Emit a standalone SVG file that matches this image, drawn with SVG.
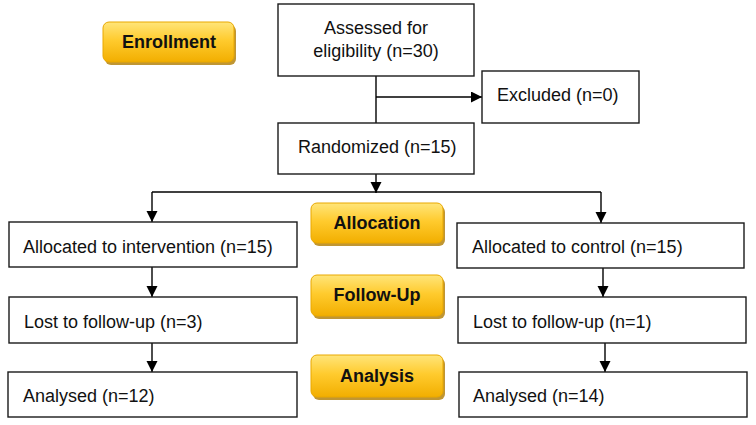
<svg xmlns="http://www.w3.org/2000/svg" width="756" height="425" viewBox="0 0 756 425">
<defs>
<linearGradient id="gold" x1="0" y1="0" x2="0" y2="1">
<stop offset="0" stop-color="#FFE57A"/>
<stop offset="0.45" stop-color="#FFCB2E"/>
<stop offset="1" stop-color="#F2AE00"/>
</linearGradient>
<marker id="arr" markerUnits="userSpaceOnUse" markerWidth="12" markerHeight="12" refX="11" refY="5.5" orient="auto">
<path d="M0,0 L11,5.5 L0,11 Z" fill="#000"/>
</marker>
<style>
.box{fill:#fff;stroke:#1a1a1a;stroke-width:1.4}
.t{font-family:"Liberation Sans",Arial,sans-serif;font-size:18px;fill:#111}
.c{text-anchor:middle}
.btn{fill:url(#gold);stroke:#E9A800;stroke-width:1}
.sh{fill:#B07C00;opacity:0.8}
.bt{font-family:"Liberation Sans",Arial,sans-serif;font-size:18px;font-weight:bold;fill:#111;text-anchor:middle}
.ln{fill:none;stroke:#000;stroke-width:1.4}
</style>
</defs>
<rect width="756" height="425" fill="#fff"/>

<g id="connectors">
<line class="ln" x1="376" y1="76" x2="376" y2="123"/>
<line class="ln" x1="376" y1="97" x2="482" y2="97" marker-end="url(#arr)"/>
<line class="ln" x1="376" y1="174" x2="376" y2="193" marker-end="url(#arr)"/>
<line class="ln" x1="152" y1="192" x2="601" y2="192"/>
<line class="ln" x1="152" y1="192" x2="152" y2="222" marker-end="url(#arr)"/>
<line class="ln" x1="601" y1="192" x2="601" y2="223" marker-end="url(#arr)"/>
<line class="ln" x1="152" y1="267" x2="152" y2="297" marker-end="url(#arr)"/>
<line class="ln" x1="603" y1="268" x2="603" y2="297" marker-end="url(#arr)"/>
<line class="ln" x1="152" y1="343" x2="152" y2="372" marker-end="url(#arr)"/>
<line class="ln" x1="605" y1="343" x2="605" y2="372" marker-end="url(#arr)"/>
</g>

<g id="enrollment">
<rect class="sh" x="105" y="25" width="131" height="40" rx="6"/>
<rect class="btn" x="103" y="22" width="131" height="40" rx="6"/>
<text class="bt" x="169" y="48">Enrollment</text>
</g>
<g id="allocation">
<rect class="sh" x="313" y="206" width="132" height="40" rx="6"/>
<rect class="btn" x="311" y="203" width="132" height="40" rx="6"/>
<text class="bt" x="377" y="229">Allocation</text>
</g>
<g id="followup">
<rect class="sh" x="313" y="278" width="132" height="41" rx="6"/>
<rect class="btn" x="311" y="275" width="132" height="41" rx="6"/>
<text class="bt" x="377" y="301">Follow-Up</text>
</g>
<g id="analysis">
<rect class="sh" x="313" y="358" width="132" height="42" rx="6"/>
<rect class="btn" x="311" y="355" width="132" height="42" rx="6"/>
<text class="bt" x="377" y="382">Analysis</text>
</g>

<g id="assessed">
<rect class="box" x="278" y="4" width="196" height="72"/>
<text class="t c" x="376" y="34">Assessed for</text>
<text class="t c" x="376" y="57">eligibility (n=30)</text>
</g>
<g id="excluded">
<rect class="box" x="482" y="71" width="157" height="52"/>
<text class="t" x="497" y="101">Excluded (n=0)</text>
</g>
<g id="randomized">
<rect class="box" x="278" y="123" width="196" height="51"/>
<text class="t" x="298" y="153">Randomized (n=15)</text>
</g>
<g id="alloc-int">
<rect class="box" x="9" y="222" width="288" height="45"/>
<text class="t" x="23" y="253">Allocated to intervention (n=15)</text>
</g>
<g id="lost-int">
<rect class="box" x="9" y="297" width="288" height="46"/>
<text class="t" x="24" y="328">Lost to follow-up (n=3)</text>
</g>
<g id="anal-int">
<rect class="box" x="8" y="372" width="289" height="45"/>
<text class="t" x="23" y="402">Analysed (n=12)</text>
</g>
<g id="alloc-ctl">
<rect class="box" x="457" y="223" width="287" height="45"/>
<text class="t" x="472" y="253">Allocated to control (n=15)</text>
</g>
<g id="lost-ctl">
<rect class="box" x="458" y="297" width="288" height="46"/>
<text class="t" x="473" y="328">Lost to follow-up (n=1)</text>
</g>
<g id="anal-ctl">
<rect class="box" x="459" y="372" width="288" height="45"/>
<text class="t" x="473" y="402">Analysed (n=14)</text>
</g>
</svg>
